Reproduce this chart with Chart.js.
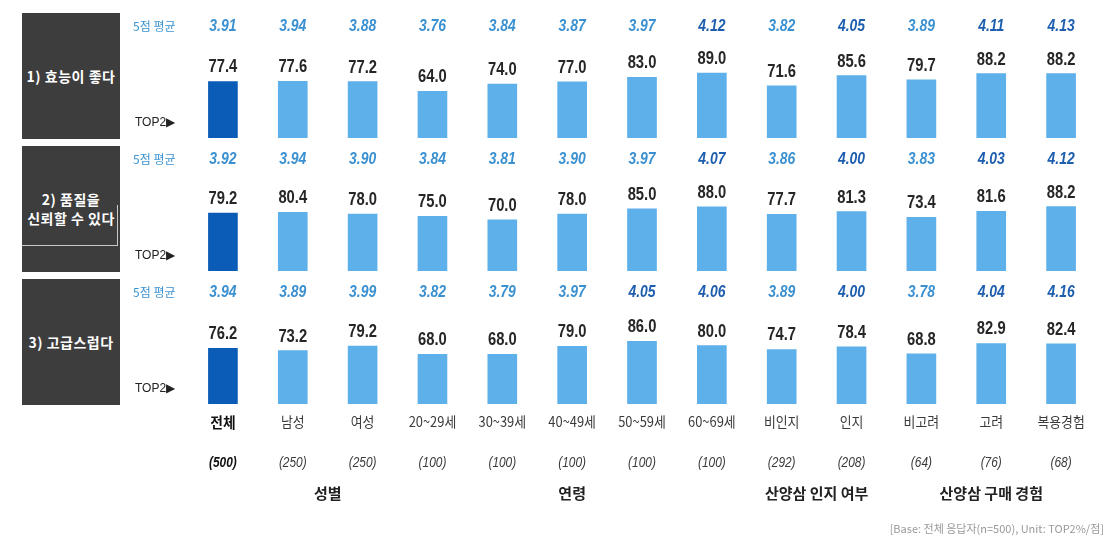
<!DOCTYPE html>
<html>
<head>
<meta charset="utf-8">
<script src="https://cdn.jsdelivr.net/npm/chart.js@4"></script>
<style>
  body { margin: 0; background: #fff; }
  #wrap { position: relative; width: 1120px; height: 550px; overflow: hidden; font-family: "Noto Sans CJK KR", sans-serif; }
  .box { position: absolute; left: 22px; width: 98px; height: 126px; background: #3d3d3d; color: #fff;
         font-weight: bold; font-size: 14px; line-height: 19px; letter-spacing: 0.5px;
         display: flex; align-items: center; justify-content: center; text-align: center; }
  .frame { position: absolute; left: 22px; top: 205px; width: 95px; height: 40px;
           border-right: 1px solid #c8c8c8; border-bottom: 1px solid #c8c8c8; }
  .avgTag { position: absolute; left: 133px; font-size: 12px; color: #3b93d2; line-height: 14px; }
  .topTag { position: absolute; left: 135px; font-size: 12px; color: #222; line-height: 14px; font-family: "Liberation Sans", sans-serif; }
  .note { position: absolute; right: 16px; top: 520px; font-size: 11px; color: #999; }
  canvas { position: absolute; left: 0; }
</style>
</head>
<body>
<div id="wrap">
  <canvas id="row0"></canvas>
  <canvas id="row1"></canvas>
  <canvas id="row2"></canvas>
  <div class="note">[Base: 전체 응답자(n=500), Unit: TOP2%/점]</div>
</div>
<script>
const categories = ["전체", "남성", "여성", "20~29세", "30~39세", "40~49세", "50~59세", "60~69세", "비인지", "인지", "비고려", "고려", "복용경험"];
const sampleSizes = ["(500)", "(250)", "(250)", "(100)", "(100)", "(100)", "(100)", "(100)", "(292)", "(208)", "(64)", "(76)", "(68)"];
const groupNames = ["성별", "연령", "산양삼 인지 여부", "산양삼 구매 경험"];
const groupSpans = [[1, 2], [3, 7], [8, 9], [10, 12]];

const rowTitles = ["1) 효능이 좋다", "2) 품질을<br>신뢰할 수 있다", "3) 고급스럽다"];

const top2Effect = [77.4, 77.6, 77.2, 64.0, 74.0, 77.0, 83.0, 89.0, 71.6, 85.6, 79.7, 88.2, 88.2];
const avgEffect = [3.91, 3.94, 3.88, 3.76, 3.84, 3.87, 3.97, 4.12, 3.82, 4.05, 3.89, 4.11, 4.13];
const top2Trust = [79.2, 80.4, 78.0, 75.0, 70.0, 78.0, 85.0, 88.0, 77.7, 81.3, 73.4, 81.6, 88.2];
const avgTrust = [3.92, 3.94, 3.90, 3.84, 3.81, 3.90, 3.97, 4.07, 3.86, 4.00, 3.83, 4.03, 4.12];
const top2Premium = [76.2, 73.2, 79.2, 68.0, 68.0, 79.0, 86.0, 80.0, 74.7, 78.4, 68.8, 82.9, 82.4];
const avgPremium = [3.94, 3.89, 3.99, 3.82, 3.79, 3.97, 4.05, 4.06, 3.89, 4.00, 3.78, 4.04, 4.16];

const rows = [
  { top2: top2Effect, avg: avgEffect },
  { top2: top2Trust, avg: avgTrust },
  { top2: top2Premium, avg: avgPremium }
];

const NUM_FONT = '"Liberation Sans", Arial, sans-serif';
const KR_FONT = '"Noto Sans CJK KR", sans-serif';

// condensed text: the source uses a narrow face, so squeeze horizontally
function narrowText(ctx, text, x, y, squeeze) {
  ctx.save();
  ctx.translate(x, y);
  ctx.scale(squeeze, 1);
  ctx.fillText(text, 0, 0);
  ctx.restore();
}

// draws the value labels, the 5-point averages and (last row) the bottom captions
const rowLabels = {
  id: 'rowLabels',
  afterDatasetsDraw(chart, args, opts) {
    const ctx = chart.ctx;
    const area = chart.chartArea;
    const xs = chart.scales.x;
    const values = chart.data.datasets[0].data;
    ctx.save();
    ctx.textAlign = 'center';
    chart.getDatasetMeta(0).data.forEach((bar, i) => {
      ctx.font = 'bold 18px ' + NUM_FONT;
      ctx.fillStyle = '#262626';
      ctx.textBaseline = 'alphabetic';
      narrowText(ctx, values[i].toFixed(1), bar.x, bar.y - 9, 0.82);

      ctx.font = 'italic bold 17px ' + NUM_FONT;
      ctx.fillStyle = opts.avg[i] >= 4 ? '#1e5eae' : '#3a90d0';
      ctx.textBaseline = 'middle';
      narrowText(ctx, opts.avg[i].toFixed(2), bar.x, area.top + 20, 0.82);
    });

    if (opts.bottom) {
      categories.forEach((c, i) => {
        const x = xs.getPixelForValue(i);
        ctx.textBaseline = 'middle';
        ctx.font = (i === 0 ? 'bold 15px ' : '14px ') + KR_FONT;
        ctx.fillStyle = i === 0 ? '#111' : '#3a3a3a';
        narrowText(ctx, c, x, area.bottom + 18, 0.92);
        ctx.font = (i === 0 ? 'italic bold 14px ' : 'italic 14px ') + NUM_FONT;
        ctx.fillStyle = i === 0 ? '#111' : '#3a3a3a';
        narrowText(ctx, sampleSizes[i], x, area.bottom + 59, 0.85);
      });
      groupNames.forEach((g, k) => {
        const x = (xs.getPixelForValue(groupSpans[k][0]) + xs.getPixelForValue(groupSpans[k][1])) / 2;
        ctx.font = 'bold 15px ' + KR_FONT;
        ctx.fillStyle = '#222';
        ctx.fillText(g, x, area.bottom + 89);
      });
    }
    ctx.restore();
  }
};

const rowBottoms = [138, 271, 404];
const rowHeight = 132;
const wrap = document.getElementById('wrap');

rows.forEach((r, k) => {
  const last = k === rows.length - 1;
  const canvas = document.getElementById('row' + k);
  const h = last ? rowHeight + (550 - rowBottoms[k]) : rowHeight;
  canvas.style.top = (rowBottoms[k] - rowHeight) + 'px';
  canvas.width = 1120;
  canvas.height = h;
  canvas.style.width = '1120px';
  canvas.style.height = h + 'px';

  new Chart(canvas, {
    type: 'bar',
    data: {
      labels: categories,
      datasets: [{
        data: r.top2,
        backgroundColor: r.top2.map((v, i) => i === 0 ? '#0b5cb6' : '#5eb0ea'),
        barThickness: 29,
        borderWidth: 0
      }]
    },
    options: {
      responsive: false,
      animation: false,
      layout: { padding: { left: 188, right: 24, top: 0, bottom: last ? 550 - rowBottoms[k] : 0 } },
      scales: {
        x: { display: false },
        y: { display: false, min: 0, max: rowHeight / 0.73 }
      },
      plugins: {
        legend: { display: false },
        tooltip: { enabled: false },
        rowLabels: { avg: r.avg, bottom: last }
      }
    },
    plugins: [rowLabels]
  });

  const box = document.createElement('div');
  box.className = 'box';
  box.style.top = (rowBottoms[k] - 125) + 'px';
  box.innerHTML = rowTitles[k];
  wrap.appendChild(box);

  const avgTag = document.createElement('div');
  avgTag.className = 'avgTag';
  avgTag.style.top = (rowBottoms[k] - rowHeight + 13) + 'px';
  avgTag.textContent = '5점 평균';
  wrap.appendChild(avgTag);

  const topTag = document.createElement('div');
  topTag.className = 'topTag';
  topTag.style.top = (rowBottoms[k] - 23) + 'px';
  topTag.textContent = 'TOP2▶';
  wrap.appendChild(topTag);
});

// thin light outline seen inside the second title box
const frame = document.createElement('div');
frame.className = 'frame';
wrap.appendChild(frame);
</script>
</body>
</html>
